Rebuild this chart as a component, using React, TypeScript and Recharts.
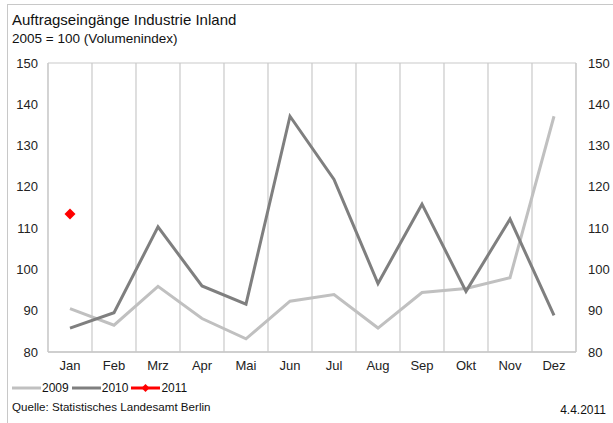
import React from "react";
import { LineChart, Line, XAxis, YAxis, CartesianGrid } from "recharts";

const months = ["Jan", "Feb", "Mrz", "Apr", "Mai", "Jun", "Jul", "Aug", "Sep", "Okt", "Nov", "Dez"];
const s2009 = [90.5, 86.5, 95.9, 88.1, 83.2, 92.3, 93.9, 85.8, 94.4, 95.4, 98.0, 137.1];
const s2010 = [85.8, 89.5, 110.3, 96.0, 91.6, 137.1, 121.8, 96.6, 115.8, 94.7, 112.2, 88.9];
const s2011: (number | null)[] = [113.4, null, null, null, null, null, null, null, null, null, null, null];
const yTicks = [80, 90, 100, 110, 120, 130, 140, 150];

const data = months.map((m, i) => ({ m, a: s2009[i], b: s2010[i], c: s2011[i] }));

const FONT = "'Liberation Sans', Arial, sans-serif";
const GRID = "#c9c9c9";
const C2009 = "#c0c0c0";
const C2010 = "#7f7f7f";
const C2011 = "#ff0000";

const Diamond = (props: any) => {
  const { cx, cy, value } = props;
  if (value == null || cx == null || cy == null) return null;
  const r = 5.5;
  return (
    <polygon
      key={props.index}
      points={`${cx},${cy - r} ${cx + r},${cy} ${cx},${cy + r} ${cx - r},${cy}`}
      fill={C2011}
    />
  );
};

const boundaries = ({ offset }: any) => {
  const out: number[] = [];
  for (let i = 0; i <= months.length; i++) out.push(offset.left + (offset.width * i) / months.length);
  return out;
};

const LegendItem = ({ color, label, diamond }: { color: string; label: string; diamond?: boolean }) => (
  <span style={{ display: "inline-flex", alignItems: "center", marginRight: 3 }}>
    <svg width={30} height={10}>
      <line x1={0} y1={5} x2={29} y2={5} stroke={color} strokeWidth={3} />
      {diamond && <polygon points="14.5,1 18.5,5 14.5,9 10.5,5" fill={color} />}
    </svg>
    <span>{label}</span>
  </span>
);

export default function App() {
  const tick = { fill: "#222", fontSize: 13, fontFamily: FONT };
  return (
    <div style={{ position: "absolute", left: 0, top: 0, width: 613, height: 423, background: "#fff", fontFamily: FONT, color: "#111" }}>
      <div style={{ position: "absolute", left: 7, top: 4, width: 606, height: 419, borderLeft: "1.5px solid #c8c8c8", borderTop: "1.5px solid #c8c8c8" }} />
      <div style={{ position: "absolute", left: 12, top: 11, fontSize: 15, lineHeight: "18px" }}>Auftragseingänge Industrie Inland</div>
      <div style={{ position: "absolute", left: 12, top: 31, fontSize: 13.5, lineHeight: "15px" }}>2005 = 100 (Volumenindex)</div>
      <LineChart width={613} height={423} data={data} margin={{ top: 63, right: 7, bottom: 41, left: 8 }}>
        <CartesianGrid stroke={GRID} strokeWidth={1.2} verticalCoordinatesGenerator={boundaries} />
        <XAxis dataKey="m" scale="band" tick={tick} tickLine={false} tickSize={0} tickMargin={9} height={30} axisLine={{ stroke: GRID, strokeWidth: 1.5 }} />
        <YAxis yAxisId="l" domain={[80, 150]} ticks={yTicks} tick={tick} tickLine={false} tickSize={0} tickMargin={10} width={40} axisLine={{ stroke: GRID }} />
        <YAxis yAxisId="r" orientation="right" domain={[80, 150]} ticks={yTicks} tick={{ ...tick, textAnchor: "start" }} tickLine={false} tickSize={0} tickMargin={12} width={30} axisLine={{ stroke: GRID }} />
        <Line yAxisId="l" dataKey="a" stroke={C2009} strokeWidth={3} dot={false} isAnimationActive={false} />
        <Line yAxisId="l" dataKey="b" stroke={C2010} strokeWidth={3} dot={false} isAnimationActive={false} />
        <Line yAxisId="r" dataKey="c" stroke={C2011} strokeWidth={3} dot={Diamond} isAnimationActive={false} />
      </LineChart>
      <div style={{ position: "absolute", left: 12, top: 381, fontSize: 12, lineHeight: "14px", display: "flex" }}>
        <LegendItem color={C2009} label="2009" />
        <LegendItem color={C2010} label="2010" />
        <LegendItem color={C2011} label="2011" diamond />
      </div>
      <div style={{ position: "absolute", left: 12, top: 400, fontSize: 11.6, lineHeight: "14px" }}>Quelle: Statistisches Landesamt Berlin</div>
      <div style={{ position: "absolute", right: 7, top: 403, fontSize: 12, lineHeight: "14px" }}>4.4.2011</div>
    </div>
  );
}
